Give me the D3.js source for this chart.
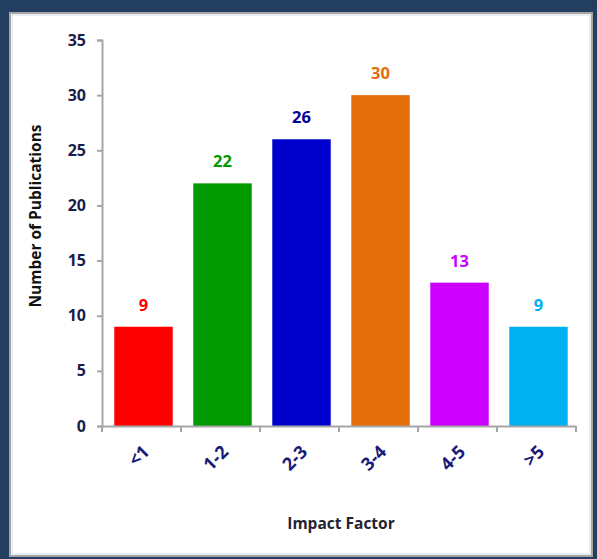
<!DOCTYPE html>
<html>
<head>
<meta charset="utf-8">
<script src="https://cdn.jsdelivr.net/npm/d3@7"></script>
<style>
  html, body { margin: 0; padding: 0; background: #223f5f; }
  svg { display: block; }
  text { font-family: "Open Sans", "Liberation Sans", sans-serif; font-weight: bold; }
</style>
</head>
<body>
<div id="container"></div>
<script>
const categories = ["<1", "1-2", "2-3", "3-4", "4-5", ">5"];
const counts = [9, 22, 26, 30, 13, 9];
const barColors = ["#ff0000", "#009900", "#0000cc", "#e46c0a", "#cc00ff", "#00b0f0"];
const labelColors = ["#ff0000", "#009900", "#00009c", "#e46c0a", "#cc00ff", "#00b0f0"];
const yTicks = [0, 5, 10, 15, 20, 25, 30, 35];

const totalWidth = 597;
const totalHeight = 559;
const margin = { top: 40, right: 21, bottom: 133, left: 102 };
const width = totalWidth - margin.left - margin.right;
const height = totalHeight - margin.top - margin.bottom;

const svg = d3.select("#container")
  .append("svg")
  .attr("width", totalWidth)
  .attr("height", totalHeight);

// white panel with grey frame
svg.append("rect")
  .attr("x", 10).attr("y", 13)
  .attr("width", 582).attr("height", 543)
  .attr("fill", "#ffffff")
  .attr("stroke", "#a6a6a6")
  .attr("stroke-width", 2);
svg.append("rect")
  .attr("x", 12).attr("y", 15)
  .attr("width", 578).attr("height", 539)
  .attr("fill", "none")
  .attr("stroke", "#d9dde3")
  .attr("stroke-width", 1);

const g = svg.append("g")
  .attr("transform", `translate(${margin.left},${margin.top})`);

const x = d3.scaleBand()
  .domain(categories)
  .range([0, width])
  .paddingInner(0.26)
  .paddingOuter(0.13);

const y = d3.scaleLinear()
  .domain([0, 35])
  .range([height, 0]);

// bars (small shift to match the original's offset inside each slot)
g.selectAll("rect.bar")
  .data(categories)
  .enter()
  .append("rect")
  .attr("class", "bar")
  .attr("x", d => x(d) + 2)
  .attr("y", (d, i) => y(counts[i]))
  .attr("width", x.bandwidth())
  .attr("height", (d, i) => height - y(counts[i]))
  .attr("fill", (d, i) => barColors[i]);

// value labels
g.selectAll("text.value")
  .data(categories)
  .enter()
  .append("text")
  .attr("class", "value")
  .attr("x", d => x(d) + x.bandwidth() / 2 + 2)
  .attr("y", (d, i) => y(counts[i]) - 16)
  .attr("text-anchor", "middle")
  .attr("font-size", 16.5)
  .attr("fill", (d, i) => labelColors[i])
  .text((d, i) => counts[i]);

// Y axis
const yAxis = g.append("g")
  .attr("id", "y-axis")
  .call(d3.axisLeft(y).tickValues(yTicks).tickSize(5).tickPadding(11));

// X axis with ticks at category boundaries
const xAxis = g.append("g")
  .attr("id", "x-axis")
  .attr("transform", `translate(0,${height})`)
  .call(d3.axisBottom(x).tickSize(0).tickFormat(""));

const step = x.step();
xAxis.selectAll("line.sep")
  .data(d3.range(categories.length + 1))
  .enter()
  .append("line")
  .attr("class", "sep")
  .attr("x1", i => i * step)
  .attr("x2", i => i * step)
  .attr("y1", 0)
  .attr("y2", 6)
  .attr("stroke", "#a6a6a6")
  .attr("stroke-width", 2);

[yAxis, xAxis].forEach(ax => {
  ax.select(".domain").attr("stroke", "#a6a6a6").attr("stroke-width", 2);
  ax.selectAll(".tick line").attr("stroke", "#a6a6a6").attr("stroke-width", 2);
});
yAxis.selectAll(".tick text")
  .attr("font-size", 16)
  .attr("fill", "#1c1c4a")
  .style("font-family", "'Open Sans', sans-serif")
  .style("font-weight", "bold");

// rotated category labels
g.selectAll("text.cat")
  .data(categories)
  .enter()
  .append("text")
  .attr("class", "cat")
  .attr("transform", d => `translate(${x(d) + x.bandwidth() / 2 + 9},${height + 27}) rotate(-45)`)
  .attr("text-anchor", "end")
  .attr("font-size", 18)
  .attr("fill", "#1a1a78")
  .text(d => d);

// axis titles
g.append("text")
  .attr("x", width / 2 + 2)
  .attr("y", height + 103)
  .attr("text-anchor", "middle")
  .attr("font-size", 15.5)
  .attr("fill", "#1f2430")
  .text("Impact Factor");

g.append("text")
  .attr("transform", "rotate(-90)")
  .attr("x", -(216 - margin.top))
  .attr("y", -61)
  .attr("text-anchor", "middle")
  .attr("font-size", 15.5)
  .attr("fill", "#111111")
  .text("Number of Publications");
</script>
</body>
</html>
